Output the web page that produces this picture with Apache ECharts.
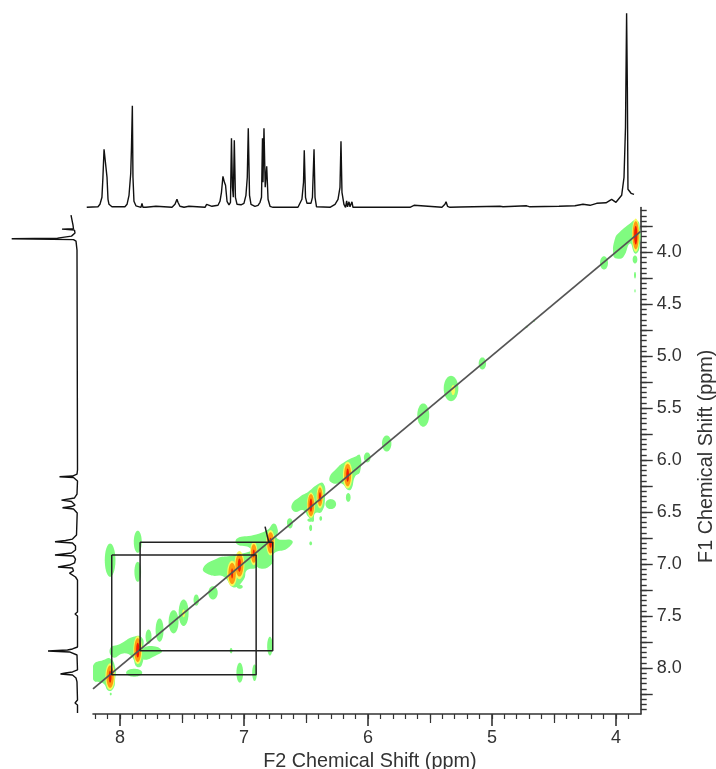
<!DOCTYPE html>
<html><head><meta charset="utf-8">
<style>html,body{margin:0;padding:0;background:#fff}#c{width:716px;height:769px;filter:blur(0.45px)}</style>
<script src="https://cdn.jsdelivr.net/npm/echarts@6/dist/echarts.min.js"></script>
</head><body><div id="c"></div>
<script>
// 1D projection along F2 (top): chemical shift, intensity
const topPpm=[8.269,8.178,8.162,8.146,8.138,8.129,8.125,8.117,8.113,8.105,8.097,8.089,8.065,7.96,7.943,7.927,7.913,7.907,7.9,7.895,7.887,7.871,7.83,7.822,7.814,7.79,7.709,7.7,7.579,7.555,7.539,7.531,7.515,7.482,7.442,7.434,7.312,7.299,7.288,7.256,7.207,7.191,7.179,7.167,7.155,7.146,7.134,7.118,7.106,7.098,7.09,7.083,7.075,7.066,7.053,7.021,6.997,6.981,6.97,6.962,6.952,6.94,6.908,6.883,6.867,6.855,6.847,6.843,6.835,6.825,6.813,6.802,6.786,6.762,6.56,6.544,6.528,6.515,6.509,6.499,6.487,6.455,6.443,6.43,6.422,6.41,6.301,6.26,6.236,6.22,6.212,6.204,6.188,6.175,6.166,6.159,6.147,6.139,6.123,6.115,5.654,5.638,5.621,5.613,5.395,5.371,5.362,5.35,5.33,5.249,4.926,4.901,4.71,4.683,4.448,4.319,4.254,4.197,4.143,4.068,4.022,3.987,3.941,3.922,3.91,3.901,3.895,3.89,3.865,3.841];
const topInt=[0,0.5,3,10,30,58,59,57,59,30,8,3,0.5,0.5,3,12,34,60,101.6,30,6,1.5,0,4,0,0,1,0,0,3,8,5,1,0,1,0,0,3,1,1,2,6,15,31,25,22,6,2.5,5,69,20,10,67,10,3,2.5,4,12,30,79,12,3,1,2,5,10,69,25,79,20,41,8,1,0,0,2,8,25,57,10,4,4,10,58,10,0.5,0,3,8,20,66,15,3,0,6.5,0.5,5.5,0.5,5.5,0,0,2,2,0,0,3,5.5,1,0,0.3,1,0.5,1.5,0.5,1,1.5,3,2,4,4.5,8,5,12,30,80,194,120,18,14,13];
// 1D projection along F1 (left)
const leftPpm=[3.644,3.74,3.775,3.779,3.788,3.817,3.846,3.865,3.872,3.88,3.894,3.981,6.096,6.135,6.154,6.161,6.168,6.202,6.327,6.365,6.385,6.399,6.433,6.447,6.459,6.471,6.51,6.721,6.76,6.774,6.786,6.798,6.827,6.865,6.894,6.913,6.923,6.952,6.99,7.01,7.029,7.038,7.067,7.087,7.106,7.125,7.154,7.462,7.481,7.5,7.62,7.63,7.64,7.7,7.71,7.72,7.75,7.76,7.77,7.798,7.817,7.827,7.837,7.846,7.875,8.019,8.038,8.048,8.058,8.067,8.096,8.134,8.308,8.337,8.356,8.433];
const leftInt=[6.5,4.5,4,15.5,3,2.5,6,20,65.8,4,1.5,0.5,0,0.5,5,18,4,0,0.5,3,16,6,2.5,6,15,4,0.3,1,5,12,22.5,5,2,2,6,22.5,4,2,3,8,19.5,5,4,8,9,2,0,0,2.5,0,0,-1.5,0,0,-1.5,0,0,-1.5,0,0,5,10,29.5,8,0.5,0,5,12,17,5,1.5,0.5,0,2.5,0,0];
// Axis ticks and labels
const f2Labels=[8,7,6,5,4];
const f1Labels=[4,4.5,5,5.5,6,6.5,7,7.5,8];
// Contour regions in (F2 ppm, F1 ppm)
const greenRegions=[
[[8.215,7.971],[8.134,7.923],[8.08,7.907],[8.04,7.987],[8.04,8.115],[8.054,8.196],[8.094,8.218],[8.134,8.148],[8.215,8.115]],
[[8.08,7.811],[8.0,7.769],[7.892,7.699],[7.824,7.705],[7.811,7.811],[7.824,7.971],[7.865,7.987],[7.905,7.891],[7.973,7.859],[8.054,7.898]],
[[7.824,7.827],[7.743,7.789],[7.662,7.833],[7.703,7.875],[7.811,7.917]],
[[7.331,7.042],[7.217,6.946],[7.11,6.923],[7.015,6.898],[6.894,6.881],[6.894,7.026],[6.975,7.058],[7.002,7.148],[7.083,7.224],[7.164,7.122],[7.271,7.106]],
[[7.056,6.753],[6.921,6.721],[6.813,6.673],[6.759,6.609],[6.727,6.673],[6.732,6.753],[6.611,6.776],[6.651,6.849],[6.759,6.898],[6.772,6.994],[6.867,7.042],[6.921,6.962],[6.948,6.849],[7.056,6.808]],
[[6.616,6.433],[6.549,6.352],[6.481,6.304],[6.414,6.24],[6.36,6.224],[6.346,6.352],[6.373,6.497],[6.427,6.513],[6.441,6.593],[6.481,6.545],[6.522,6.481],[6.589,6.497]],
[[6.312,6.176],[6.253,6.08],[6.186,6.016],[6.105,5.968],[6.064,5.952],[6.064,6.112],[6.105,6.16],[6.132,6.272],[6.159,6.288],[6.213,6.224],[6.28,6.224]],
[[4.021,4.029],[4.007,3.869],[3.967,3.804],[3.886,3.724],[3.846,3.692],[3.811,3.724],[3.811,3.965],[3.846,4.013],[3.886,3.917],[3.94,4.045],[3.994,4.061]]
];
const greenPeaks=[
[8.075,8.25,.008,.013],[7.886,8.045,.065,.038],[8.08,6.962,.043,.16],[7.857,6.785,.032,.106],[7.857,7.074,.027,.096],
[7.77,7.699,.024,.07],[7.681,7.635,.032,.112],[7.568,7.555,.04,.112],[7.487,7.468,.04,.128],[7.385,7.346,.022,.054],
[7.25,7.276,.038,.064],[7.034,7.218,.024,.019],[7.034,8.045,.027,.096],[6.915,8.045,.019,.08],[7.104,7.833,.011,.026],
[6.791,7.789,.022,.09],[6.628,6.609,.022,.048],[6.467,6.577,.022,.016],[6.462,6.657,.011,.026],[6.462,6.801,.011,.019],
[6.3,6.423,.043,.048],[6.634,6.599,.019,.038],[6.462,6.647,.011,.026],[6.381,6.561,.011,.022],[6.159,6.359,.019,.042],
[6.006,5.974,.027,.048],[5.849,5.84,.038,.077],[5.554,5.567,.048,.112],[5.33,5.311,.059,.122],[5.077,5.07,.03,.058],
[3.846,4.07,.019,.038],[3.846,4.221,.008,.032],[3.846,4.372,.005,.016],[4.096,4.103,.032,.064],[4.661,4.66,.008,.01],[4.72,4.718,.008,.01]
];
const yellowPeaks=[
[8.08,8.083,.038,.128],[7.857,7.827,.035,.135],[7.096,7.09,.04,.122],[7.037,7.01,.04,.135],[6.921,6.898,.03,.112],[6.786,6.795,.035,.122],
[6.46,6.433,.032,.122],[6.387,6.353,.027,.112],[6.164,6.144,.038,.128],[3.84,3.837,.03,.16],[7.487,7.474,.011,.038],[5.313,5.326,.016,.048]
];
const orangePeaks=[
[8.08,8.083,.029,.108],[7.857,7.827,.028,.115],[7.096,7.09,.03,.102],[7.037,7.01,.032,.11],[6.921,6.898,.023,.09],[6.786,6.795,.027,.102],
[6.46,6.433,.026,.106],[6.387,6.353,.02,.09],[6.164,6.144,.028,.108],[3.84,3.837,.025,.135]
];
const redPeaks=[
[8.08,8.083,.011,.058],[7.857,7.827,.013,.071],[7.096,7.09,.008,.048],[7.037,7.01,.013,.064],[6.921,6.898,.008,.038],[6.786,6.795,.011,.048],
[6.46,6.433,.011,.064],[6.387,6.353,.008,.045],[6.164,6.144,.011,.064],[3.84,3.837,.013,.09]
];
// Diagonal and correlation boxes (F2, F1)
const diagonal=[[8.218,8.2],[3.8,3.8]];
const boxA=[[8.067,6.913],[6.902,6.913],[6.902,8.064],[8.067,8.064],[8.067,6.913]];
const boxB=[[7.838,6.791],[6.768,6.791],[6.768,7.834],[7.838,7.834],[7.838,6.791]];
const crossLink=[[6.83,6.64],[6.8,6.79]];

const INK='#333', TXT='#333', FONT='"Liberation Sans",Arial,sans-serif';
const steps=(lo,hi,st)=>{const o=[];const n=Math.round((hi-lo)/st);for(let i=0;i<=n;i++)o.push(+(lo+i*st).toFixed(3));return o;};
function ellipsePts(p){const o=[];for(let i=0;i<48;i++){const a=i/48*2*Math.PI;o.push([p[0]+p[2]*Math.cos(a),p[1]+p[3]*Math.sin(a)]);}return o;}
function contourSeries(name,color,regions,smooth){
  return {name,type:'custom',xAxisIndex:0,yAxisIndex:0,silent:true,clip:true,encode:{x:0,y:1},
    data:regions.map((r,i)=>[r[0][0],r[0][1],i]),
    renderItem:(params,api)=>{const r=regions[api.value(2)];
      return {type:'polygon',shape:{points:r.map(p=>api.coord(p)),smooth},style:{fill:color}};}};
}
function mainLine(name,data,color,width){return {name,type:'line',xAxisIndex:0,yAxisIndex:0,data,showSymbol:false,silent:true,lineStyle:{color,width},z:5};}
function baseAxis(extra){return Object.assign({type:'value',gridIndex:0,scale:false,splitLine:{show:false},axisLine:{show:false},axisTick:{show:false},axisLabel:{show:false}},extra);}
const lab={color:TXT,fontFamily:FONT,fontSize:18};
const nameLab={color:TXT,fontFamily:FONT,fontSize:19.8};
const option={
  animation:false,backgroundColor:'#fff',
  grid:[
    {left:93,top:207.5,width:547.7,height:506.5,outerBoundsMode:'none'},
    {left:86,top:10,width:550,height:197.3,outerBoundsMode:'none'},
    {left:10,top:215,width:67.5,height:498,outerBoundsMode:'none'}
  ],
  xAxis:[
    baseAxis({position:'bottom',inverse:true,min:3.8,max:8.218,axisLine:{show:true,lineStyle:{color:INK,width:1.6}},
      axisTick:{show:true,length:12,customValues:f2Labels,lineStyle:{color:INK,width:1.6}},
      axisLabel:{show:true,customValues:f2Labels,margin:15,formatter:v=>String(v),...lab},
      name:'F2 Chemical Shift (ppm)',nameLocation:'middle',nameGap:36,nameTextStyle:{...nameLab,padding:[0,0,0,6]}}),
    baseAxis({position:'bottom',inverse:true,min:3.8,max:8.218,axisTick:{show:true,length:5,customValues:steps(3.9,8.2,0.1),lineStyle:{color:INK,width:1.2}}}),
    baseAxis({position:'bottom',inverse:true,min:3.8,max:8.218,axisTick:{show:true,length:9,customValues:steps(4.5,7.5,1),lineStyle:{color:INK,width:1.2}}}),
    {type:'value',gridIndex:1,inverse:true,min:3.825,max:8.275,show:false},
    {type:'value',gridIndex:2,inverse:true,min:0,max:67.5,show:false}
  ],
  yAxis:[
    baseAxis({position:'right',inverse:true,min:3.57,max:8.442,axisLine:{show:true,lineStyle:{color:INK,width:1.6}},
      axisTick:{show:true,length:12,customValues:steps(3.75,8.25,0.25),lineStyle:{color:INK,width:1.4}},
      axisLabel:{show:true,customValues:f1Labels,margin:16,padding:[3,0,0,0],formatter:v=>v.toFixed(1),...lab},
      name:'F1 Chemical Shift (ppm)',nameLocation:'middle',nameRotate:90,nameGap:56,nameTextStyle:{...nameLab,padding:[0,0,0,9]}}),
    baseAxis({position:'right',inverse:true,min:3.57,max:8.442,axisTick:{show:true,length:6,customValues:steps(3.6,8.4,0.05),lineStyle:{color:INK,width:1.4}}}),
    {type:'value',gridIndex:1,min:0,max:197.3,show:false},
    {type:'value',gridIndex:2,inverse:true,min:3.643,max:8.433,show:false}
  ],
  series:[
    contourSeries('green regions','#80fb80',greenRegions,0.5),
    contourSeries('green peaks','#80fb80',greenPeaks.map(ellipsePts),0),
    contourSeries('yellow peaks','#f6fb5a',yellowPeaks.map(ellipsePts),0),
    contourSeries('orange peaks','#ff9a10',orangePeaks.map(ellipsePts),0),
    contourSeries('red peaks','#f01c04',redPeaks.map(ellipsePts),0),
    mainLine('diagonal',diagonal,'#555',1.8),
    mainLine('box A',boxA,'#222',1.5),
    mainLine('box B',boxB,'#222',1.5),
    mainLine('link',crossLink,'#222',1.5),
    {name:'F2 projection',type:'line',xAxisIndex:3,yAxisIndex:2,showSymbol:false,silent:true,
      data:topPpm.map((p,i)=>[p,topInt[i]]),lineStyle:{color:'#111',width:1.4}},
    {name:'F1 projection',type:'line',xAxisIndex:4,yAxisIndex:3,showSymbol:false,silent:true,
      data:leftPpm.map((p,i)=>[leftInt[i],p]),lineStyle:{color:'#111',width:1.4}}
  ]
};
const chart=echarts.init(document.getElementById('c'),null,{renderer:'canvas'});
chart.setOption(option);
</script></body></html>
